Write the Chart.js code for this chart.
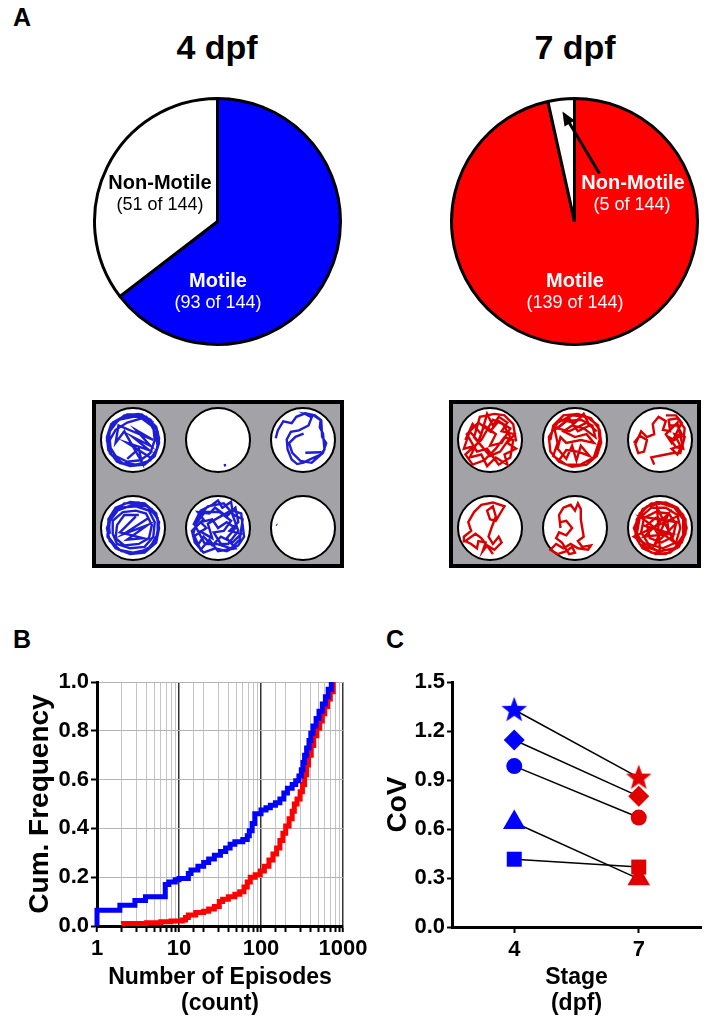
<!DOCTYPE html>
<html><head><meta charset="utf-8">
<script src="https://cdn.jsdelivr.net/npm/chart.js@4.4.1/dist/chart.umd.min.js"></script>
<style>
body{margin:0;background:#fff;width:708px;height:1025px;position:relative;overflow:hidden;font-family:"Liberation Sans",Arial,sans-serif}
canvas{position:absolute}
.t{position:absolute;line-height:1;white-space:nowrap;transform:translateX(-50%);color:#000}
.b{font-weight:bold}
.w{color:#fff}
</style></head><body>

<div class="t b" style="left:13px;top:5px;font-size:25px;transform:none">A</div>
<div class="t b" style="left:217px;top:30px;font-size:34px">4 dpf</div>
<div class="t b" style="left:575px;top:30px;font-size:34px">7 dpf</div>
<div class="t b" style="left:13px;top:627px;font-size:25px;transform:none">B</div>
<div class="t b" style="left:386px;top:627px;font-size:25px;transform:none">C</div>

<canvas id="pie4" width="251" height="251" style="left:92px;top:96px"></canvas>
<canvas id="pie7" width="251" height="251" style="left:449px;top:96px"></canvas>

<div class="t b" style="left:160px;top:172px;font-size:20px">Non-Motile</div>
<div class="t" style="left:160px;top:195px;font-size:18px">(51 of 144)</div>
<div class="t b w" style="left:218px;top:270px;font-size:20px">Motile</div>
<div class="t w" style="left:218px;top:293px;font-size:18px">(93 of 144)</div>
<div class="t b w" style="left:633px;top:172px;font-size:20px">Non-Motile</div>
<div class="t w" style="left:632px;top:195px;font-size:18px">(5 of 144)</div>
<div class="t b w" style="left:575px;top:270px;font-size:20px">Motile</div>
<div class="t w" style="left:575px;top:293px;font-size:18px">(139 of 144)</div>

<canvas id="plate4" width="252" height="168" style="left:92px;top:400px"></canvas>
<canvas id="plate7" width="252" height="168" style="left:449px;top:400px"></canvas>

<canvas id="cdf" width="370" height="365" style="left:0;top:660px"></canvas>
<canvas id="cov" width="338" height="365" style="left:370px;top:660px"></canvas>

<script>
// ---- data ----
const MOTILITY_LABELS=['Motile','Non-Motile']
const COUNTS_4DPF=[93,51]
const COUNTS_7DPF=[139,5]

// well plate: centres of the 6 wells (plate units) and tracks in well units (-1..1)
const WELL_X=[41,126,211]
const WELL_Y=[40,128]
const TRACKS_4DPF=[
[0,[-0.7,-0.5,-0.3,-0.85,0.2,-0.9,0.6,-0.7,0.85,-0.3,0.9,0.1,0.75,0.55,0.4,0.85,-0.1,0.9,-0.55,0.75,-0.85,0.35,-0.9,-0.1,-0.75,-0.55,-0.35,-0.8,0.1,-0.85,0.55,-0.65,0.8,-0.2,0.85,0.25,0.6,0.7,0.15,0.85,-0.35,0.8,-0.75,0.5,-0.8,0.0,-0.6,-0.35,-0.2,-0.6,0.3,-0.75,0.7,-0.45,0.75,0.0,0.6,0.45,0.25,0.7,-0.2,0.75,-0.6,0.55,-0.85,0.15,-0.8,-0.3,-0.5,-0.7,0.0,-0.8,0.45,-0.8,0.8,-0.45,0.9,-0.05,0.8,0.4,0.5,0.75,0.0,0.88,-0.45,0.8,-0.8,0.45,-0.9,0.0,-0.7,-0.6,-0.2,-0.88,0.3,-0.88,0.7,-0.6]],
[0,[0.6,0.6,-0.2,0.1,0.55,0.35,0.0,-0.1,0.6,0.2,0.1,-0.35,0.7,0.0,-0.5,-0.5,-0.6,0.1,-0.3,-0.3,0.3,0.75,0.2,0.3,-0.2,0.65]],
[1,[0.2,0.88,0.28,0.86]],
[2,[-0.94,-0.06,-0.87,-0.33,-0.68,-0.64,-0.39,-0.58,-0.23,-0.8,0.08,-0.92,0.41,-0.85,0.61,-0.7,0.58,-0.44,0.69,-0.22,0.74,0.33,0.61,0.5,0.24,0.67,0.02,0.78,-0.2,0.83,-0.39,0.67,-0.53,0.33,-0.56,-0.02,-0.42,-0.28,-0.14,-0.33,0.19,-0.5,0.3,-0.78,0.08,-0.9,0.36,-0.85,0.63,-0.67,0.66,-0.11,0.8,0.11,0.69,0.44,0.3,0.78,-0.09,0.72,-0.37,0.44,-0.48,0.11,-0.26,-0.11,0.02,-0.22]],
[2,[0.08,0.44,0.63,0.42]],
[3,[-0.8,0.2,-0.85,-0.3,-0.6,-0.7,-0.1,-0.9,0.4,-0.85,0.8,-0.5,0.9,0.0,0.8,0.5,0.4,0.85,-0.1,0.9,-0.6,0.7,-0.88,0.3,-0.85,-0.2,-0.55,-0.6,0.0,-0.8,0.5,-0.75,0.85,-0.35,0.85,0.2,0.6,0.65,0.15,0.88,-0.4,0.8,-0.8,0.45,-0.9,0.0,-0.7,-0.5,-0.3,-0.85,0.2,-0.88,0.65,-0.65,0.9,-0.2,0.8,0.35,0.5,0.75,0.0,0.85,-0.5,0.75,-0.85,0.3,-0.8,-0.25,-0.45,-0.7,0.1,-0.75,0.55,-0.6,0.75,-0.2,0.7,0.3,0.4,0.65,-0.1,0.7,-0.55,0.55,-0.7,0.2,-0.7,-0.25,-0.35,-0.55,0.1,-0.6,0.45,-0.5,0.65,-0.1,0.55,0.35,0.2,0.55,-0.3,0.6,-0.6,0.35,-0.55,-0.1,-0.3,-0.45,0.2,-0.45]],
[3,[0.55,-0.35,-0.3,0.2,0.5,-0.1,-0.2,0.4,0.35,0.35,-0.45,0.15,0.1,-0.4]],
[4,[-0.85,-0.1,-0.6,-0.6,-0.2,-0.8,0.0,-0.95,0.15,-0.7,0.45,-0.9,0.5,-0.6,0.8,-0.5,0.85,-0.1,0.9,0.3,0.7,0.6,0.3,0.8,-0.1,0.7,-0.5,0.85,-0.8,0.5,-0.9,0.1,-0.5,-0.3,-0.7,-0.55,-0.3,-0.5,-0.1,-0.7,0.3,-0.4,0.6,-0.7,0.7,-0.2,0.4,0.1,0.8,0.2,0.5,0.5,0.1,0.3,-0.2,0.6,-0.5,0.3,-0.7,0.6,-0.85,0.3,-0.4,0.0,-0.6,-0.2,-0.2,-0.3,0.0,0.0,0.3,-0.2,0.6,0.0,0.3,0.35,0.6,0.7,0.0,0.8,-0.3,0.4,-0.6,0.75,-0.85,0.2,-0.7,-0.35,-0.35,-0.75,0.2,-0.85,0.55,-0.45,0.85,-0.3,0.75,0.4,0.45,0.7,-0.05,0.55,-0.45,0.55,-0.8,-0.1,-0.45,-0.55,0.05,-0.55,0.45,-0.25,0.2,0.1,-0.15,0.15,0.1,0.55,0.35,0.55,0.7,0.1,0.45,-0.6,0.0,-0.35,-0.35,-0.15,-0.2,0.35,-0.65,0.1]],
[5,[-0.92,-0.12,-0.89,-0.1]]
]
const TRACKS_7DPF=[
[0,[-0.85,0.0,-0.6,-0.55,-0.3,-0.2,-0.1,-0.9,0.1,-0.5,0.3,-0.8,0.6,-0.6,0.4,-0.3,0.85,-0.2,0.6,0.1,0.9,0.3,0.5,0.5,0.6,0.85,0.2,0.6,-0.1,0.9,-0.3,0.5,-0.7,0.6,-0.5,0.2,-0.9,0.3,-0.7,-0.3,-0.4,0.05,-0.2,-0.5,0.2,-0.2,0.0,0.2,0.4,0.1,0.7,-0.4,0.3,-0.65,0.0,-0.3,-0.4,-0.6,-0.8,-0.2,-0.45,0.4,-0.1,0.3,0.3,0.85,0.7,0.6,0.8,0.0,0.5,-0.1,0.2,0.3,-0.2,0.7,-0.6,0.85,-0.85,0.5,-0.3,0.0,0.1,-0.7,0.45,-0.55,0.7,-0.1,0.35,0.4,0.0,0.55,-0.55,-0.1,-0.35,-0.8,0.15,-0.9,0.5,-0.85,0.8,-0.55,0.9,0.05]],
[1,[-0.85,0.0,-0.75,-0.5,-0.4,-0.85,0.1,-0.9,0.55,-0.75,0.85,-0.35,0.9,0.1,0.75,0.55,0.4,0.85,-0.1,0.92,-0.55,0.75,-0.85,0.4,-0.9,-0.1,-0.6,-0.6,-0.1,-0.85,0.4,-0.8,0.8,-0.5,0.85,0.0,0.65,0.6,0.2,0.85,-0.3,0.85,-0.75,0.55,-0.6,0.1,-0.7,-0.35,-0.3,-0.65,0.2,-0.7,0.6,-0.5,0.7,-0.1,0.3,-0.4,-0.1,-0.5,-0.4,-0.3,0.0,-0.1,0.4,-0.2,0.65,0.1,0.2,0.0,-0.3,0.1,-0.5,-0.1,-0.6,0.3,-0.3,0.65,-0.1,0.2,0.05,0.7,0.2,0.2,0.5,0.55,0.1,0.4,-0.3,0.35,-0.55,0.7]],
[1,[-0.5,-0.7,0.0,-0.6,0.3,-0.9,0.5,-0.5,0.1,-0.3,-0.2,-0.75,-0.6,-0.4,-0.2,-0.3,0.4,-0.6,0.75,-0.3]],
[2,[-0.9,0.1,-0.7,-0.15,-0.45,0.0,-0.55,0.4,-0.75,0.45,-0.85,0.15,-0.65,-0.3,-0.45,-0.1,-0.2,-0.2,-0.25,-0.55,-0.05,-0.8,0.2,-0.65,0.1,-0.35,0.35,-0.3,0.3,-0.7,0.6,-0.75,0.85,-0.4,0.8,0.1,0.6,0.5,0.4,0.3,0.7,0.2,0.5,-0.2,0.85,-0.1,0.7,0.45,0.45,0.45,0.2,0.5,-0.3,0.6,-0.2,0.85]],
[2,[0.3,-0.5,0.6,-0.5,0.75,-0.2,0.5,0.0,0.3,-0.1,0.55,0.25,0.8,0.3,0.6,-0.6,0.2,-0.2,0.4,0.1,0.75,-0.6,0.55,-0.85,0.2,-0.85]],
[3,[-0.9,0.5,-0.9,0.3,-0.65,0.1,-0.75,-0.2,-0.55,-0.55,-0.3,-0.8,0.1,-0.88,0.5,-0.75,0.35,-0.5,0.2,-0.25,0.0,-0.3,-0.1,-0.6,0.1,-0.75,0.2,-0.4,0.05,0.0,-0.05,0.3,0.1,0.55,0.3,0.3,0.4,0.5,0.15,0.75,-0.1,0.6,-0.25,0.8,-0.15,0.5,-0.4,0.45,-0.45,0.7,-0.65,0.55,-0.85,0.45,-0.5,0.2,-0.3,0.35,0.0,0.75,0.1,0.9]],
[4,[-0.5,0.0,-0.55,-0.45,-0.4,-0.7,-0.15,-0.8,0.0,-0.6,0.1,-0.85,0.2,-0.65,0.2,-0.3,0.25,0.0,0.3,0.3,0.1,0.45,0.25,0.65,0.55,0.6,0.45,0.75,0.1,0.7,-0.15,0.55,-0.4,0.7,-0.65,0.55,-0.85,0.75,-0.6,0.9,-0.3,0.8,-0.1,0.65,0.0,0.85,-0.2,0.9,-0.45,0.5,-0.65,0.35,-0.55,0.15,-0.3,0.25,-0.1,0.0,-0.3,-0.25,-0.5,-0.2]],
[5,[-0.85,0.1,-0.7,-0.5,-0.3,-0.85,0.2,-0.88,0.6,-0.7,0.88,-0.3,0.88,0.2,0.65,0.65,0.2,0.9,-0.3,0.85,-0.7,0.55,-0.9,0.0,-0.6,-0.65,-0.1,-0.9,0.4,-0.8,0.8,-0.45,0.92,0.0,0.75,0.5,0.35,0.85,-0.15,0.9,-0.6,0.7,-0.85,0.3,-0.8,-0.3,-0.45,-0.75,0.05,-0.85,0.5,-0.7,0.8,-0.3,0.8,0.25,0.5,0.7,0.0,0.8,-0.5,0.65,-0.8,0.2,-0.7,-0.35,-0.3,-0.7,0.2,-0.7,0.6,-0.45,0.7,0.0,0.55,0.5,0.1,0.7,-0.4,0.55,-0.65,0.15,-0.55,-0.35,-0.15,-0.55,0.3,-0.5,0.55,-0.15,0.45,0.3,0.05,0.5,-0.35,0.35,-0.45,-0.1,-0.15,-0.35,0.25,-0.25,0.3,0.15,-0.05,0.25,-0.2,0.0]],
[5,[-0.6,-0.1,0.4,0.2,-0.55,0.3,0.3,-0.5,-0.2,0.6,0.6,-0.2,-0.7,-0.4,0.5,0.5,-0.1,-0.7,0.0,0.85,-0.9,0.3,0.8,-0.5]]
]

// B: cumulative frequency of episode counts
const EPISODE_TICKS=[1,10,100,1000]
const FREQ_TICKS=[0,0.2,0.4,0.6,0.8,1.0]
const EPIS_4DPF=[1,1,1.9,2.9,3.9,6.8,7.5,9,10,13,14,17,20,23,27,32,37,42,48,60,68,72,78,84,100,115,130,150,170,190,210,240,265,290,310,325,340,360,385,405,430,470,510,560,610,660,720]
const FREQ_4DPF=[0,0.065,0.085,0.105,0.12,0.17,0.18,0.19,0.195,0.215,0.23,0.245,0.26,0.275,0.29,0.305,0.32,0.335,0.345,0.355,0.37,0.39,0.42,0.46,0.475,0.485,0.495,0.505,0.52,0.545,0.565,0.58,0.595,0.615,0.64,0.67,0.7,0.73,0.76,0.79,0.82,0.85,0.88,0.91,0.94,0.97,1.0]
const EPIS_7DPF=[2,2.1,4,6,8,11,12,13,16,20,23,27,31,34,40,48,55,62,68,74,85,98,110,125,140,155,170,185,200,220,240,255,275,300,320,340,360,380,410,440,480,520,560,600,650,700,760]
const FREQ_7DPF=[0.008,0.01,0.013,0.017,0.02,0.025,0.035,0.045,0.055,0.06,0.07,0.08,0.1,0.11,0.12,0.13,0.14,0.16,0.18,0.2,0.21,0.225,0.245,0.27,0.295,0.32,0.35,0.38,0.41,0.44,0.47,0.5,0.52,0.55,0.58,0.62,0.66,0.7,0.74,0.78,0.81,0.84,0.87,0.9,0.93,0.96,1.0]

// C: coefficient of variation per larva
const STAGES=[4,7]
const COV_TICKS=[0,0.3,0.6,0.9,1.2,1.5]
const COV_SHAPES=['star','rectRot','circle','triangle','rect']
const COV_4DPF=[1.33,1.145,0.985,0.64,0.415]
const COV_7DPF=[0.915,0.8,0.67,0.295,0.367]

// ---- style ----
const BLUE='#0000ff',RED='#ff0000'
const FONT="'Liberation Sans', Arial, sans-serif"
Chart.defaults.font.family=FONT
Chart.defaults.color='#000'
const tickFont={size:22,weight:'bold'}

function PieChart(id,counts,fill,extra){
 return new Chart(document.getElementById(id),{
  type:'pie',
  data:{labels:MOTILITY_LABELS,datasets:[{data:counts,backgroundColor:[fill,'#ffffff'],borderColor:'#000',borderWidth:3,radius:123}]},
  options:{responsive:false,animation:false,events:[],layout:{padding:0},
   plugins:{legend:{display:false},tooltip:{enabled:false}}},
  plugins:extra||[]
 })
}

const arrowPlugin={id:'arrow',afterDatasetsDraw(chart){
 const arc=chart.getDatasetMeta(0).data[1]
 const p=arc.getProps(['x','y','outerRadius','startAngle','endAngle'],true)
 const mid=(p.startAngle+p.endAngle)/2
 const tx=p.x+Math.cos(mid)*p.outerRadius*0.9, ty=p.y+Math.sin(mid)*p.outerRadius*0.9
 const sx=p.x+25, sy=p.y-48
 const a=Math.atan2(ty-sy,tx-sx), ctx=chart.ctx
 ctx.save();ctx.strokeStyle='#000';ctx.fillStyle='#000';ctx.lineWidth=3
 ctx.beginPath();ctx.moveTo(sx,sy);ctx.lineTo(tx-Math.cos(a)*8,ty-Math.sin(a)*8);ctx.stroke()
 ctx.beginPath();ctx.moveTo(tx,ty)
 ctx.lineTo(tx-Math.cos(a)*14+Math.sin(a)*6,ty-Math.sin(a)*14-Math.cos(a)*6)
 ctx.lineTo(tx-Math.cos(a)*14-Math.sin(a)*6,ty-Math.sin(a)*14+Math.cos(a)*6)
 ctx.closePath();ctx.fill();ctx.restore()
}}

PieChart('pie4',COUNTS_4DPF,BLUE)
PieChart('pie7',COUNTS_7DPF,RED,[arrowPlugin])

// ---- well plates ----
const plateBg={id:'plateBg',beforeDraw(chart){const c=chart.ctx,w=chart.width,h=chart.height
 c.save();c.fillStyle='#a3a3a7';c.fillRect(0,0,w,h);c.strokeStyle='#000';c.lineWidth=4;c.strokeRect(2,2,w-4,h-4);c.restore()}}

function PlateChart(id,tracks,color){
 const wells=[]
 WELL_Y.forEach(y=>WELL_X.forEach(x=>wells.push({x,y})))
 const sets=tracks.map(([w,pts])=>{
  const cx=WELL_X[w%3],cy=WELL_Y[Math.floor(w/3)],d=[]
  for(let i=0;i<pts.length;i+=2){d.push({x:cx+pts[i]*29,y:cy+pts[i+1]*29})}
  return {data:d,showLine:true,borderColor:color,borderWidth:2.4,pointRadius:0,tension:0,order:0,clip:false}
 })
 sets.push({data:wells,pointRadius:32,pointBackgroundColor:'#fff',pointBorderColor:'#000',pointBorderWidth:2,showLine:false,order:1,clip:false})
 return new Chart(document.getElementById(id),{
  type:'scatter',data:{datasets:sets},
  options:{responsive:false,animation:false,events:[],layout:{padding:0,autoPadding:false},
   plugins:{legend:{display:false},tooltip:{enabled:false}},
   scales:{x:{display:false,min:0,max:252},y:{display:false,min:0,max:168,reverse:true}}},
  plugins:[plateBg]
 })
}
PlateChart('plate4',TRACKS_4DPF,'#1e1ed2')
PlateChart('plate7',TRACKS_7DPF,'#d80000')

// ---- B ----
const isDecade=v=>EPISODE_TICKS.includes(v)
new Chart(document.getElementById('cdf'),{
 type:'scatter',
 data:{datasets:[
  {data:EPIS_4DPF.map((x,i)=>({x,y:FREQ_4DPF[i]})),showLine:true,stepped:true,borderColor:BLUE,borderWidth:5,pointRadius:0,clip:false},
  {data:EPIS_7DPF.map((x,i)=>({x,y:FREQ_7DPF[i]})),showLine:true,stepped:true,borderColor:RED,borderWidth:5,pointRadius:0,clip:false}
 ]},
 options:{responsive:false,animation:false,events:[],
  layout:{padding:{top:22,right:27,left:0,bottom:0},autoPadding:false},
  plugins:{legend:{display:false},tooltip:{enabled:false}},
  scales:{
   x:{type:'logarithmic',min:1,max:1000,
    ticks:{autoSkip:false,maxRotation:0,font:tickFont,color:'#000',padding:4,callback:v=>isDecade(v)?String(v):''},
    grid:{color:c=>isDecade(c.tick&&c.tick.value)?'#333':'#c4c4c4',lineWidth:c=>isDecade(c.tick&&c.tick.value)?1.5:1,tickColor:'#000',tickLength:6,tickWidth:2},
    border:{color:'#000',width:3},
    title:{display:true,text:['Number of Episodes','(count)'],font:{size:23,weight:'bold',lineHeight:1.1},color:'#000',padding:{top:0,bottom:9}},
    afterFit(s){s.height=99;s.paddingLeft=0;s.paddingRight=0}},
   y:{min:0,max:1,
    afterBuildTicks(s){s.ticks=FREQ_TICKS.map(v=>({value:v}))},
    ticks:{font:tickFont,color:'#000',padding:2,callback:v=>v.toFixed(1)},
    grid:{color:'#b4b4b4',tickColor:'#000',tickLength:6,tickWidth:2},
    border:{color:'#000',width:3},
    title:{display:true,text:'Cum. Frequency',font:{size:28,weight:'bold'},color:'#000',padding:{top:23,bottom:0}},
    afterFit(s){s.width=97;s.paddingTop=0;s.paddingBottom=0}}
  }}
})

// ---- C ----
function StarImage(color){
 const c=document.createElement('canvas');c.width=c.height=28
 const g=c.getContext('2d');g.fillStyle=color;g.beginPath()
 for(let i=0;i<10;i++){const r=i%2?5.6:13.5,a=-Math.PI/2+i*Math.PI/5;g.lineTo(14+r*Math.cos(a),14.5+r*Math.sin(a))}
 g.closePath();g.fill();return c
}
const COV_BLUE='#0000ff',COV_RED='#e00000'
const STARS=[StarImage(COV_BLUE),StarImage(COV_RED)]
const MARK_RADIUS={star:12,rectRot:10.5,circle:8,triangle:13,rect:10.6}

new Chart(document.getElementById('cov'),{
 type:'scatter',
 data:{datasets:COV_SHAPES.map((shape,i)=>({
  data:STAGES.map((s,j)=>({x:s,y:(j===0?COV_4DPF:COV_7DPF)[i]})),
  showLine:true,borderColor:'#000',borderWidth:1.5,
  pointStyle:shape==='star'?STARS:shape,
  pointBackgroundColor:[COV_BLUE,COV_RED],pointBorderColor:[COV_BLUE,COV_RED],pointBorderWidth:0,
  pointRadius:MARK_RADIUS[shape],clip:false
 }))},
 options:{responsive:false,animation:false,events:[],
  layout:{padding:{top:22,right:7,left:0,bottom:0},autoPadding:false},
  plugins:{legend:{display:false},tooltip:{enabled:false}},
  scales:{
   x:{type:'linear',min:2.5,max:8.5,
    afterBuildTicks(s){s.ticks=STAGES.map(v=>({value:v}))},
    ticks:{font:tickFont,color:'#000',padding:4},
    grid:{drawOnChartArea:false,tickColor:'#000',tickLength:6,tickWidth:2},
    border:{color:'#000',width:3},
    title:{display:true,text:['Stage','(dpf)'],font:{size:23,weight:'bold',lineHeight:1.1},color:'#000',padding:{top:0,bottom:9}},
    afterFit(s){s.height=98;s.paddingLeft=0;s.paddingRight=0}},
   y:{min:0,max:1.5,
    afterBuildTicks(s){s.ticks=COV_TICKS.map(v=>({value:v}))},
    ticks:{font:tickFont,color:'#000',padding:2,callback:v=>v.toFixed(1)},
    grid:{drawOnChartArea:false,tickColor:'#000',tickLength:5,tickWidth:2},
    border:{color:'#000',width:3},
    title:{display:true,text:'CoV',font:{size:28,weight:'bold'},color:'#000',padding:{top:11,bottom:0}},
    afterFit(s){s.width=82;s.paddingTop=0;s.paddingBottom=0}}
  }}
})
</script>
</body></html>
